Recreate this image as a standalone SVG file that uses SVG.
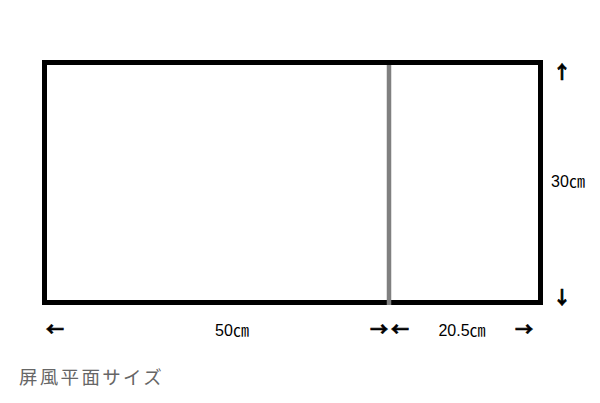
<svg xmlns="http://www.w3.org/2000/svg" width="600" height="403" viewBox="0 0 600 403">
<style>
.t{font-family:"Liberation Sans","Noto Sans CJK JP",sans-serif;font-size:16px;fill:#000}
.a{font-family:"Noto Sans CJK JP","DejaVu Sans",sans-serif;font-size:18px;fill:#000;font-weight:bold;stroke:#000;stroke-width:0.7}
</style>
<rect width="600" height="403" fill="#fff"/>
<g id="screen">
<rect x="44.5" y="62.5" width="496" height="240" fill="none" stroke="#000" stroke-width="5"/>
</g>
<g id="fold">
<line x1="389" y1="65" x2="389" y2="305" stroke="#808080" stroke-width="4.5"/>
</g>
<g id="labels">
<text class="a" x="55" y="336" text-anchor="middle">←</text>
<text class="t" x="232" y="336" text-anchor="middle">50㎝</text>
<text class="a" x="379" y="336" text-anchor="middle">→</text>
<text class="a" x="400" y="336" text-anchor="middle">←</text>
<text class="t" x="462" y="336" text-anchor="middle">20.5㎝</text>
<text class="a" x="524" y="336" text-anchor="middle">→</text>
<text class="a" x="562" y="79" text-anchor="middle">↑</text>
<text class="t" x="568" y="187" text-anchor="middle">30㎝</text>
<text class="a" x="562" y="304" text-anchor="middle">↓</text>
<text x="19" y="384" style="font-family:'Noto Sans CJK JP',sans-serif;font-size:18.5px;fill:#666;letter-spacing:2.3px">屏風平面サイズ</text>
</g>
</svg>
